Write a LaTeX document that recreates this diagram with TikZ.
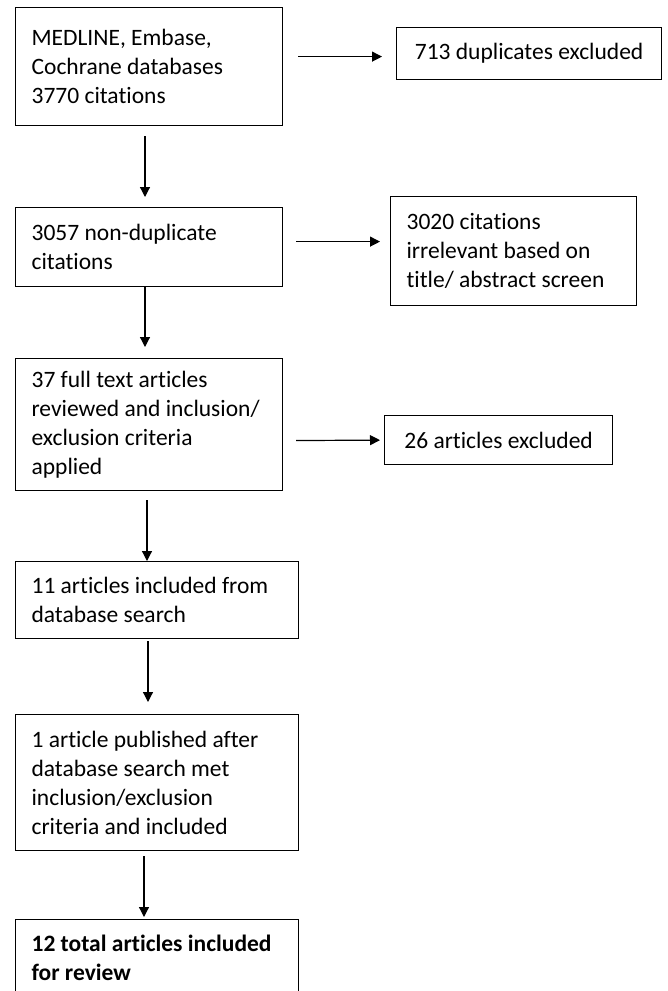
\documentclass[tikz,border=0pt]{standalone}
\usepackage{fontspec}
\setmainfont{Carlito}[Ligatures=CommonOff]
\usetikzlibrary{arrows.meta}

\begin{document}
\begin{tikzpicture}[x=1pt, y=-1pt,
  stage/.style={draw, line width=1.2pt, anchor=north west, align=flush left, inner xsep=16pt, inner ysep=0pt, font=\fontsize{23.5}{29}\selectfont},
  flow/.style={-{Triangle[length=10pt,width=10pt]}, line width=1.2pt}]

\useasboundingbox (0,0) rectangle (667,991);

% main column
\node[stage, text width=235pt, minimum height=118pt] (search) at (15,7) {MEDLINE, Embase,\\Cochrane databases\\3770 citations\par\vspace{14pt}};
\node[stage, text width=235pt, minimum height=79pt] (nondup) at (15,207) {3057 non-duplicate\\citations};
\node[stage, text width=235pt, minimum height=132pt] (fulltext) at (15,358) {37 full text articles\\reviewed and inclusion/\\exclusion criteria\\applied};
\node[stage, text width=251pt, minimum height=77pt] (incl) at (15,561) {11 articles included from\\database search};
\node[stage, text width=251pt, minimum height=136pt] (late) at (15,714) {1 article published after\\database search met\\inclusion/exclusion\\criteria and included};
\node[stage, text width=251pt, minimum height=76pt, font=\fontsize{23.5}{29}\selectfont\bfseries] (total) at (15,919) {12 total articles included\\for review};

% excluded
\node[stage, minimum width=265pt, minimum height=52pt] (dup) at (396,27) {713 duplicates excluded};
\node[stage, text width=214pt, minimum height=109pt] (irrel) at (390,196) {3020 citations\\irrelevant based on\\title/ abstract screen};
\node[stage, minimum width=228pt, minimum height=49pt] (excl) at (384,415) {26 articles excluded};

\draw[flow, shorten <=10pt, shorten >=10pt] ([xshift=130pt]search.south west) -- ([xshift=130pt]nondup.north west);
\draw[flow, shorten >=11pt] ([xshift=130pt]nondup.south west) -- ([xshift=130pt]fulltext.north west);
\draw[flow, shorten <=9pt] ([xshift=132pt]fulltext.south west) -- ([xshift=132pt]incl.north west);
\draw[flow, shorten <=2pt, shorten >=12pt] ([xshift=133pt]incl.south west) -- ([xshift=133pt]late.north west);
\draw[flow, shorten <=5pt, shorten >=2pt] ([xshift=129pt]late.south west) -- ([xshift=129pt]total.north west);

\draw[flow, shorten <=15pt, shorten >=14pt] ([yshift=10pt]search.east) -- ([yshift=-3pt]dup.west);
\draw[flow, shorten <=13pt, shorten >=10pt] ([yshift=5.5pt]nondup.east) -- ([yshift=9.5pt]irrel.west);
\draw[flow, shorten <=13pt, shorten >=4pt] ([yshift=-16pt]fulltext.east) -- (excl.west);
\end{tikzpicture}
\end{document}
